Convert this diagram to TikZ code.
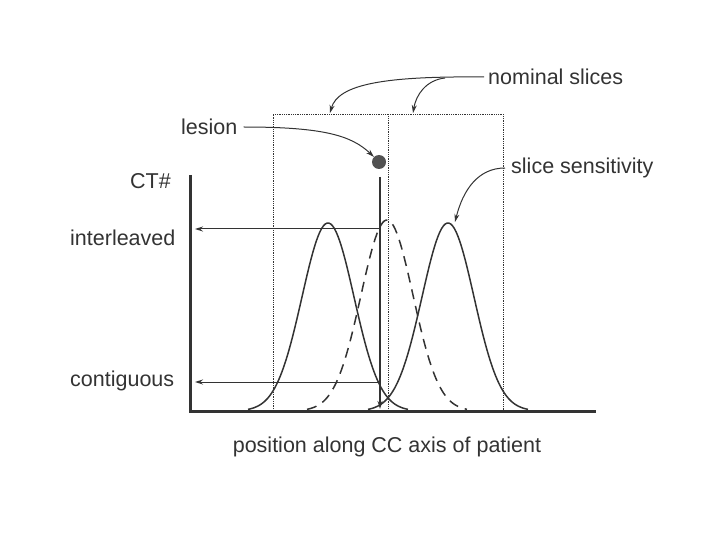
\documentclass[tikz,border=0pt]{standalone}
\usepackage{fontspec}
\setmainfont{Liberation Sans}
\usetikzlibrary{arrows.meta}
\definecolor{ink}{HTML}{333333}
\tikzset{lbl/.style={anchor=west,inner sep=0pt,text=ink,font=\fontsize{21.5}{25}\selectfont},
  pointer/.style={-{Stealth[length=8pt,width=5pt]},line width=1pt,ink},
  slicebox/.style={densely dotted,line width=.8pt,ink}}
\newcommand{\gausscurve}[2]{plot[domain={#1-80}:{#1+80},samples=90] (\x,{411-#2*exp(-((\x-#1)^2)/1352)})}

\begin{document}
\begin{tikzpicture}[x=1pt,y=-1pt,>=Stealth]
\useasboundingbox (0,0) rectangle (720,540);
% axes
\draw[line width=3pt,ink] (190,175)--(190,411)--(596,411);
% nominal slices
\draw[slicebox] (388,411)--(273,411)--(273,114)--(388,114)--(388,411);
\draw[slicebox] (388,114)--(503,114)--(503,411);
% slice sensitivity
\draw[line width=1.5pt,ink] \gausscurve{328}{188};
\draw[line width=1.5pt,ink] \gausscurve{448}{188};
\draw[line width=1.5pt,ink,dash pattern=on 10pt off 7pt] \gausscurve{387}{191};
% lesion
\node[circle,fill=ink!85,minimum size=14pt,inner sep=0pt] (lesion) at (379,162) {};
\coordinate (hit) at (380,409);
\draw[pointer,line width=1.8pt] (380,177)--(hit);
\coordinate (ctI) at (195,229);
\coordinate (ctC) at (195,382);
\draw[pointer] (380,229)--(ctI);
\draw[pointer] (380,382)--(ctC);
% labels
\node[lbl] (ctn) at (130,181) {CT\#};
\node[lbl] (inter) at (70,238) {interleaved};
\node[lbl] (contig) at (70,381) {contiguous};
\node[lbl] (lesl) at (181,127) {lesion};
\node[lbl] (nom) at (488,77) {nominal slices};
\node[lbl] (sens) at (511,168) {slice sensitivity};
\node[lbl,anchor=center] (xlab) at (387,447) {position along CC axis of patient};
% pointers
\coordinate (nomA) at (330,113);
\coordinate (nomB) at (413,113);
\coordinate (peakR) at (455,222);
\draw[pointer] ([xshift=-4pt]nom.west) .. controls (385,76) and (338,84) .. (nomA);
\draw[pointer] (445,78) .. controls (426,80) and (416,95) .. (nomB);
\draw[pointer] ([xshift=6pt]lesl.east) .. controls (325,127) and (352,136) .. (lesion.north west);
\draw[pointer] ([xshift=-6pt]sens.west) .. controls (478,168) and (463,190) .. (peakR);
\end{tikzpicture}
\end{document}
